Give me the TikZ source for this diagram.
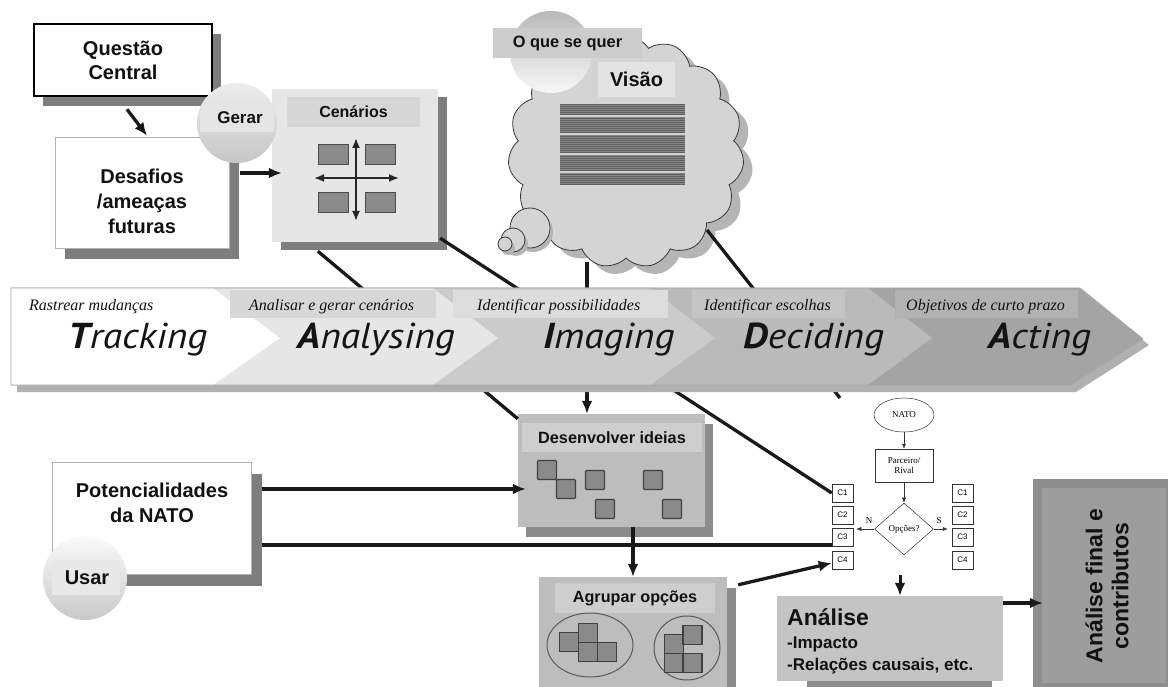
\documentclass[tikz,border=0pt]{standalone}
\usepackage{fontspec}
\setmainfont{Liberation Sans}
\newfontfamily\serifit{Liberation Serif}
\newfontfamily\bandfont[FakeStretch=1.1]{PT Sans}
\usetikzlibrary{calc,arrows.meta,shapes.geometric,shapes.symbols,shadows}
\definecolor{shd}{HTML}{7E7E7E}
\definecolor{txtc}{HTML}{111111}
\definecolor{sqc}{HTML}{8A8A8A}
\definecolor{cloudc}{HTML}{D4D4D4}
\definecolor{segA}{HTML}{E6E6E6}
\definecolor{segB}{HTML}{CBCBCB}
\definecolor{segC}{HTML}{BABABA}
\definecolor{segD}{HTML}{A4A4A4}
\definecolor{recA}{HTML}{D7D7D7}
\definecolor{recB}{HTML}{DDDDDD}
\definecolor{recC}{HTML}{C5C5C5}
\definecolor{recD}{HTML}{B2B2B2}
\definecolor{devc}{HTML}{BDBDBD}
\definecolor{devh}{HTML}{CECECE}
\definecolor{devs}{HTML}{8C8C8C}
\definecolor{anac}{HTML}{C4C4C4}
\definecolor{finA}{HTML}{8E8E8E}
\definecolor{finB}{HTML}{9D9D9D}
\begin{document}
\begin{tikzpicture}[x=1pt,y=-1pt,
  txt/.style={inner sep=0pt, text=txtc, align=center},
  bfs/.style={font=\bfseries\fontsize{#1}{24}\selectfont},
  arr/.style={line width=3.3pt, draw=black!90, -{Latex[length=13pt,width=11pt]}},
  ln/.style={line width=3.3pt, draw=black!90},
  sq/.style={draw=black!75, fill=sqc, line width=1.1pt, rounded corners=1pt, minimum size=19pt, inner sep=0pt},
  wbox/.style={fill=white, draw=gray!60, line width=0.6pt, inner sep=0pt},
  lbl/.style={inner sep=0pt, anchor=base west, text=txtc, font=\serifit\itshape\fontsize{16}{16}\selectfont},
  big/.style={inner sep=0pt, anchor=base west, text=black!92, font=\bandfont\itshape\fontsize{36}{36}\selectfont},
  fc/.style={draw=black!80, line width=0.5pt, inner sep=0pt, font=\serifit\fontsize{9}{10.5}\selectfont, align=center},
  cbx/.style={draw=black!80, line width=0.5pt, minimum width=21pt, minimum height=18pt, inner sep=0pt, font=\fontsize{8}{9}\selectfont},
  fca/.style={line width=0.5pt, draw=black!80, -{Latex[length=5pt,width=4pt]}}
]
\useasboundingbox (0,0) rectangle (1168,687);
\fill[white] (0,0) rectangle (1168,687);

% ---------- boxes that sit behind the band's connectors ----------
\node[fill=segA, minimum width=166pt, minimum height=153pt, inner sep=0pt,
  drop shadow={shadow xshift=9pt,shadow yshift=-8pt,fill=shd,opacity=1}] (cen) at (355,165.5) {};
\node[fill=devc, minimum width=187pt, minimum height=113pt, inner sep=0pt,
  drop shadow={shadow xshift=8pt,shadow yshift=-10pt,fill=devs,opacity=1}] (dev) at (611.5,470.5) {};

% flowchart nodes
\node[fc, ellipse, minimum width=60pt, minimum height=34pt] (nato) at (904,415) {NATO};
\node[fc, minimum width=58pt, minimum height=33pt] (par) at (904,465.5) {Parceiro/\\Rival};
\node[fc, diamond, aspect=1.13, minimum width=59pt, minimum height=52pt] (dia) at (904,529) {Op\c{c}\~oes?};
\foreach \i/\yy in {1/493,2/515,3/537,4/560}{
  \node[cbx] (cl\i) at (842.5,\yy) {C\i};
  \node[cbx] (cr\i) at (962.5,\yy) {C\i};
}

% cloud shadow
\node[cloud, cloud puffs=15, cloud puff arc=115, cloud ignores aspect, minimum width=236pt, minimum height=232pt,
  fill=gray!58, draw=none] (cloudsh) at (635,160) {};
\coordinate (cvA) at (587,262);
\coordinate (cvB) at (707,230);
\coordinate (cvEnd) at (840,398);

\draw[ln] ($(cen.south west)+(46,9)$) -- ($(dev.north west)+(0,5)$);
\draw[ln] ($(cen.south east)+(2,-4)$) -- (cl1.west);
\draw[ln] (cvB) -- (cvEnd);
\draw[arr] (cvA) -- (dev.north -| cvA);

% ---------- band ----------
\fill[gray!62] (17,295) -- (1084,295) -- (1149,345) -- (1076,392) -- (17,392) -- cycle;
\fill[segD] (11,288) -- (1080,288) -- (1143,339) -- (1070,385) -- (11,385) -- cycle;
\fill[segC] (11,288) -- (868,288) -- (932,338) -- (868,385) -- (11,385) -- cycle;
\fill[segB] (11,288) -- (650,288) -- (715,338) -- (650,385) -- (11,385) -- cycle;
\fill[segA] (11,288) -- (433,288) -- (498,338) -- (433,385) -- (11,385) -- cycle;
\fill[white] (11,288) -- (213,288) -- (280,338) -- (213,385) -- (11,385) -- cycle;
\fill[recA] (230,290) rectangle (436,318);
\fill[recB] (453,290) rectangle (668,318);
\fill[recC] (692,290) rectangle (845,318);
\fill[recD] (895,290) rectangle (1078,318);
\draw[gray!70, line width=0.8pt] (11,288) -- (1080,288) -- (1143,339) -- (1070,385) -- (11,385) -- cycle;

\node[lbl] (t1) at (29,311) {Rastrear mudanças};
\node[lbl] (t2) at (249,311) {Analisar e gerar cenários};
\node[lbl] (t3) at (477,311) {Identificar possibilidades};
\node[lbl] (t4) at (704,311) {Identificar escolhas};
\node[lbl] (t5) at (906,311) {Objetivos de curto prazo};

\node[big] (w1) at (68,348) {\textbf{T}racking};
\node[big] (w2) at (297,348) {\textbf{A}nalysing};
\node[big] (w3) at (543,348) {\textbf{I}maging};
\node[big] (w4) at (743,348) {\textbf{D}eciding};
\node[big] (w5) at (988,348) {\textbf{A}cting};

% ---------- top-left boxes ----------
\node[fill=white, draw=black, line width=2.6pt, minimum width=178pt, minimum height=72pt, inner sep=0pt,
  drop shadow={shadow xshift=9pt,shadow yshift=-10pt,fill=shd,opacity=1},
  txt, bfs=20] (q) at (123,60) {Questão\\Central};
\node[wbox, minimum width=174pt, minimum height=111pt,
  drop shadow={shadow xshift=10pt,shadow yshift=-11pt,fill=shd,opacity=1}] (des) at (142,192.5) {};
\node[txt, font=\bfseries\fontsize{20}{25}\selectfont] (dest) at (142,201) {Desafios\\/ameaças\\futuras};
\draw[arr] ($(q.south)+(4,12)$) -- ($(des.north)+(5,-1)$);

% Cenarios content
\node[fill=gray!32, minimum width=133pt, minimum height=30pt, inner sep=0pt, txt, bfs=16] (cenh) at (353.5,112) {Cenários};
\foreach \cx/\cy/\nm in {333/155/ca,380.5/155/cb,333/203/cc,380.5/203/cd}{
  \node[draw=black!70, fill=sqc, line width=1pt, minimum width=30pt, minimum height=20pt, inner sep=0pt] (\nm) at (\cx,\cy) {};
}
\coordinate (cvt) at (356,138);
\coordinate (cvb) at (356,221);
\coordinate (cvl) at (314,178);
\coordinate (cvr) at (399,178);
\draw[line width=1.8pt, black!85, {Latex[length=10pt,width=8pt]}-{Latex[length=10pt,width=8pt]}] (cvt) -- (cvb);
\draw[line width=1.8pt, black!85, {Latex[length=10pt,width=8pt]}-{Latex[length=10pt,width=8pt]}] (cvl) -- (cvr);

\draw[arr] ($(des.east|-0,173)+(11,0)$) -- ($(cen.west|-0,173)+(10,0)$);

% Gerar circle
\node[circle, minimum size=80pt, inner sep=0pt, shading=axis, top color=gray!14, bottom color=gray!45] (gerar) at (237,123) {};
\begin{scope}
  \clip (237,123) circle (40);
  \fill[gray!20] (200,104) rectangle (274,132);
\end{scope}
\node[txt, bfs=17] (gerart) at (240,118) {Gerar};

% ---------- cloud ----------
\node[cloud, cloud puffs=15, cloud puff arc=115, cloud ignores aspect, minimum width=236pt, minimum height=232pt,
  fill=cloudc, draw=gray!45!black, line width=0.8pt] (cloud) at (626,152) {};
\foreach \bx/\by/\br/\nm in {530/228/20/bA,513/240/12/bB,505/244/7/bC}{
  \fill[gray!58] (\bx+3,\by+4) circle (\br);
  \node[circle, minimum size={2*\br*1pt}, inner sep=0pt, fill=cloudc, draw=gray!45!black, line width=0.8pt] (\nm) at (\bx,\by) {};
}
\node[circle, minimum size=82pt, inner sep=0pt, shading=axis, top color=gray!55, bottom color=gray!6] (oq) at (551,52) {};
\node[fill=gray!40, minimum width=149pt, minimum height=30pt, inner sep=0pt, txt, bfs=16.4] (oqt) at (567.5,43) {O que se quer};
\node[fill=gray!22, minimum width=77pt, minimum height=35pt, inner sep=0pt, txt, bfs=20] (vis) at (636.5,79.5) {Visão};
\fill[black!62] (560,104) rectangle (685,185);
\foreach \yy in {105,107,...,184}{ \draw[black!48, line width=0.7pt] (560,\yy) -- (685,\yy); }
\foreach \yy in {116,134.5,154.5,172}{ \draw[gray!35, line width=2pt] (560,\yy) -- (685,\yy); }

% ---------- Desenvolver ideias ----------
\node[fill=devh, minimum width=180pt, minimum height=29pt, inner sep=0pt, txt, bfs=16.3] (devhd) at (612,437.5) {Desenvolver ideias};
\foreach \cx/\cy/\nm in {547/470/d1,566/489/d2,595/480/d3,605/509/d4,653/480/d5,672/509/d6}{
  \node[sq] (\nm) at (\cx,\cy) {};
}

% ---------- Potencialidades ----------
\node[wbox, minimum width=199pt, minimum height=112pt,
  drop shadow={shadow xshift=11pt,shadow yshift=-12pt,fill=shd,opacity=1}] (pot) at (151.5,518) {};
\node[txt, font=\bfseries\fontsize{20}{25}\selectfont] (pott) at (152,503) {Potencialidades\\da NATO};
\node[circle, minimum size=84pt, inner sep=0pt, shading=axis, top color=gray!4, bottom color=gray!42] (usar) at (85,578) {};
\begin{scope}
  \clip (85,578) circle (42);
  \fill[gray!18] (52,560) rectangle (120,595);
\end{scope}
\node[txt, bfs=20] (usart) at (87,578) {Usar};

\draw[arr] ($(pot.east)+(11,-29)$) coordinate (pA) -- ($(dev.west|-pA)+(8,0)$);
\draw[line width=4.6pt, black!90] ($(pot.east)+(11,27)$) coordinate (pB) -- (cl3.west|-pB);

% ---------- Agrupar ----------
\fill[devs] (727,588) rectangle (736,687);
\node[fill=devc, minimum width=188pt, minimum height=112pt, inner sep=0pt] (agr) at (633,633) {};
\node[fill=devh, minimum width=160pt, minimum height=30pt, inner sep=0pt, txt, bfs=16.2] (agrh) at (635,598) {Agrupar opções};
\draw[arr] (dev.south -| agr.north) -- (agr.north);
\node[ellipse, draw=black!65, line width=1pt, minimum width=86pt, minimum height=64pt, inner sep=0pt] (e1) at (590,645) {};
\node[ellipse, draw=black!65, line width=1pt, minimum width=66pt, minimum height=64pt, inner sep=0pt] (e2) at (687,648) {};
\foreach \cx/\cy/\nm in {569/642/g1,588/633/g2,588/652/g3,607/652/g4,674/644/g5,692.5/635/g6,674/663/g7,692.5/663/g8}{
  \node[sq, rounded corners=0pt] (\nm) at (\cx,\cy) {};
}
\draw[arr] ($(agr.north east)+(11,8)$) -- ($(cl4.west)+(0,3)$);

% ---------- flowchart connectors ----------
\draw[fca] (nato) -- (par);
\draw[fca] (par) -- (dia);
\draw[fca] (dia.west) -- ++(-18,0) coordinate (nEnd);
\draw[fca] (dia.east) -- ++(14,0) coordinate (sEnd);
\node[inner sep=0pt, font=\serifit\fontsize{9}{9}\selectfont] (nl) at (869,521) {N};
\node[inner sep=0pt, font=\serifit\fontsize{9}{9}\selectfont] (sl) at (939,521) {S};

% ---------- Analise ----------
\fill[devs] (807,675) rectangle (992,687);
\node[fill=anac, minimum width=226pt, minimum height=85pt, inner sep=0pt] (ana) at (890,638.5) {};
\node[inner sep=0pt, anchor=base west, text=txtc, font=\bfseries\fontsize{23}{23}\selectfont] (anat) at (787,625) {Análise};
\node[inner sep=0pt, anchor=base west, text=txtc, font=\bfseries\fontsize{17}{17}\selectfont] (ana1) at (787,648) {-Impacto};
\node[inner sep=0pt, anchor=base west, text=txtc, font=\bfseries\fontsize{17}{17}\selectfont] (ana2) at (787,670) {-Relações causais, etc.};
\coordinate (aS) at ($(dia.south)+(-4,20)$);
\draw[arr, line width=3pt] (aS) -- (ana.north -| aS);

% ---------- final box ----------
\node[fill=finA, minimum width=135pt, minimum height=208pt, inner sep=0pt] (fin) at (1100.5,583) {};
\fill[finB] (1042,488) rectangle (1166,683);
\node[rotate=90, txt, font=\bfseries\fontsize{23}{26}\selectfont] (fint) at (1107,586) {Análise final e\\contributos};
\draw[arr, line width=3.3pt] ($(ana.east)+(0,-35.5)$) -- ($(fin.west|-ana.east)+(10,-35.5)$);
\end{tikzpicture}
\end{document}
